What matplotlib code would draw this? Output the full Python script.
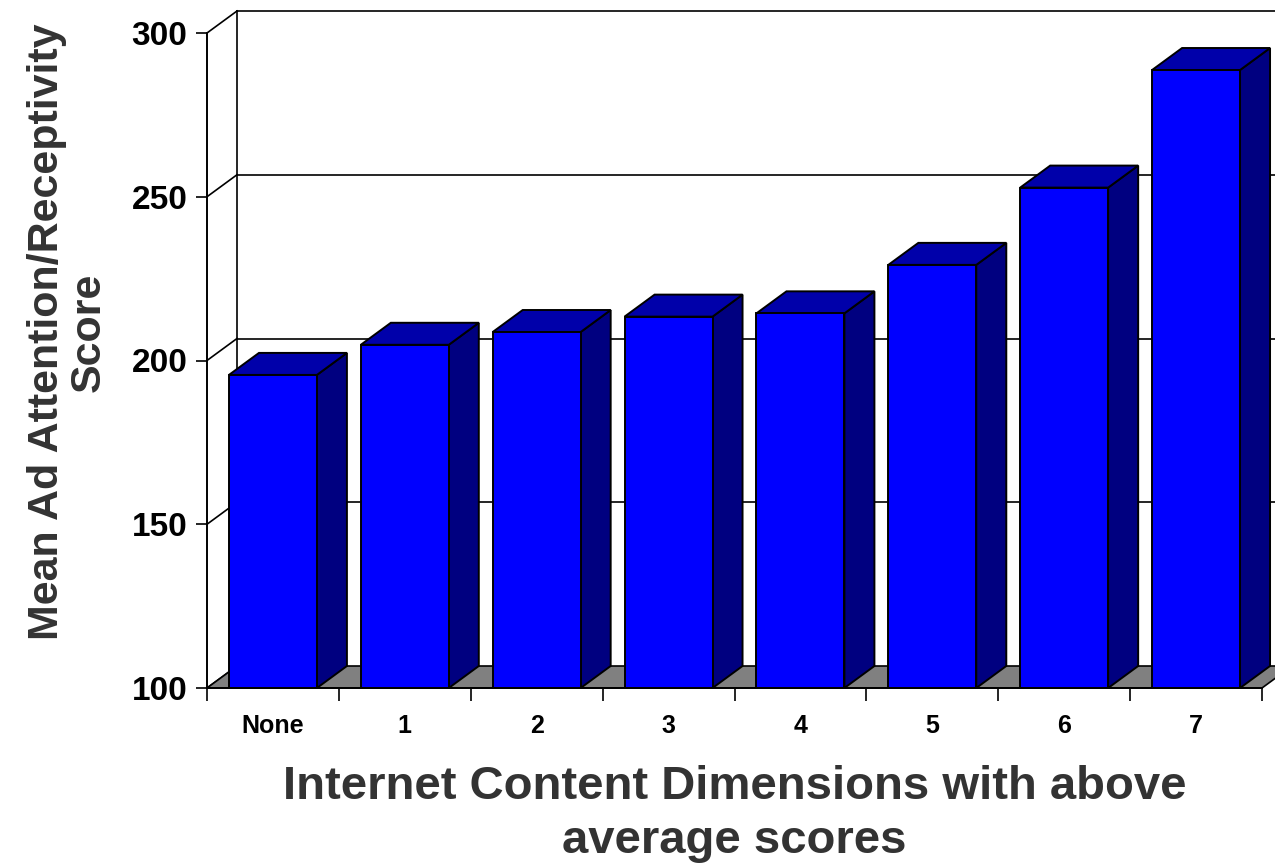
import matplotlib
matplotlib.use("Agg")
import matplotlib.pyplot as plt
from matplotlib.patches import Polygon
import numpy as np

categories = ["None", "1", "2", "3", "4", "5", "6", "7"]
scores = [195.6, 204.8, 208.7, 213.4, 214.4, 229.2, 252.8, 288.7]
y_ticks = [100, 150, 200, 250, 300]

FRONT = "#0000FF"
TOP = "#0000AA"
SIDE = "#000080"
FLOOR = "#808080"
TITLE_COLOR = "#333333"

plt.rcParams["font.family"] = ["Liberation Sans", "DejaVu Sans"]
plt.rcParams["font.weight"] = "bold"

W, H, DPI = 1275, 866, 100
fig = plt.figure(figsize=(W / DPI, H / DPI), dpi=DPI)
ax = fig.add_axes([207 / W, (H - 688) / H, (1262 - 207) / W, (688 - 33) / H])

n = len(categories)
ax.set_xlim(-0.5, n - 0.5)
ax.set_ylim(y_ticks[0], y_ticks[-1])

# depth of the pseudo-3D box expressed in data units (30 px right, 22 px up)
fig.canvas.draw()
inv = ax.transData.inverted()
p0 = inv.transform(ax.transData.transform((0, 200)))
p1 = inv.transform(ax.transData.transform((0, 200)) + np.array([30, 22]))
dx, dy = p1 - p0

x_left, x_right = -0.5, n - 0.5
base = y_ticks[0]
line_kw = dict(color="black", lw=1.2, clip_on=False)

# back wall: outline and gridlines
ax.plot([x_left + dx, x_left + dx], [base + dy, y_ticks[-1] + dy], **line_kw, zorder=1)
for v in y_ticks[1:]:
    ax.plot([x_left + dx, x_right + dx], [v + dy, v + dy], **line_kw, zorder=1)
# side wall diagonals
for v in y_ticks:
    ax.plot([x_left, x_left + dx], [v, v + dy], **line_kw, zorder=1)

# floor
floor = Polygon([(x_left, base), (x_left + dx, base + dy), (x_right + dx, base + dy),
                 (x_right, base)], closed=True, facecolor=FLOOR, edgecolor="black",
                lw=1.2, clip_on=False, zorder=2)
ax.add_patch(floor)

# bars
bw = 0.667
for i, v in enumerate(scores):
    x0 = i - bw / 2
    x1 = x0 + bw
    front = Polygon([(x0, base), (x0, v), (x1, v), (x1, base)], closed=True,
                    facecolor=FRONT, edgecolor="black", lw=1.4, clip_on=False, zorder=4)
    top = Polygon([(x0, v), (x1, v), (x1 + dx, v + dy), (x0 + dx, v + dy)], closed=True,
                  facecolor=TOP, edgecolor="black", lw=1.4, clip_on=False, zorder=3)
    side = Polygon([(x1, base), (x1, v), (x1 + dx, v + dy), (x1 + dx, base + dy)],
                   closed=True, facecolor=SIDE, edgecolor="black", lw=1.4,
                   clip_on=False, zorder=3)
    for p in (side, top, front):
        ax.add_patch(p)

# axes styling
for s in ("top", "right"):
    ax.spines[s].set_visible(False)
for s in ("left", "bottom"):
    ax.spines[s].set_linewidth(1.4)
    ax.spines[s].set_zorder(5)

ax.set_yticks(y_ticks)
ax.set_yticklabels([str(t) for t in y_ticks], fontsize=24, fontweight="bold")
ax.tick_params(axis="y", length=8, width=1.2, pad=6)

ax.set_xticks(range(n))
ax.set_xticklabels(categories, fontsize=18, fontweight="bold")
ax.set_xticks(np.arange(-0.5, n, 1.0), minor=True)
ax.tick_params(axis="x", which="major", length=0, pad=19)
ax.tick_params(axis="x", which="minor", length=9, width=1.2)

ax.set_xlabel("Internet Content Dimensions with above\naverage scores", fontsize=34,
              fontweight="bold", color=TITLE_COLOR, labelpad=19, linespacing=1.3)

fig.text(68 / W, 1 - 332 / H, "Mean Ad Attention/Receptivity\nScore", rotation=90,
         ha="center", va="center", multialignment="center", fontsize=31,
         fontweight="bold", color=TITLE_COLOR, linespacing=1.05)

fig.savefig("out.png", dpi=DPI)
